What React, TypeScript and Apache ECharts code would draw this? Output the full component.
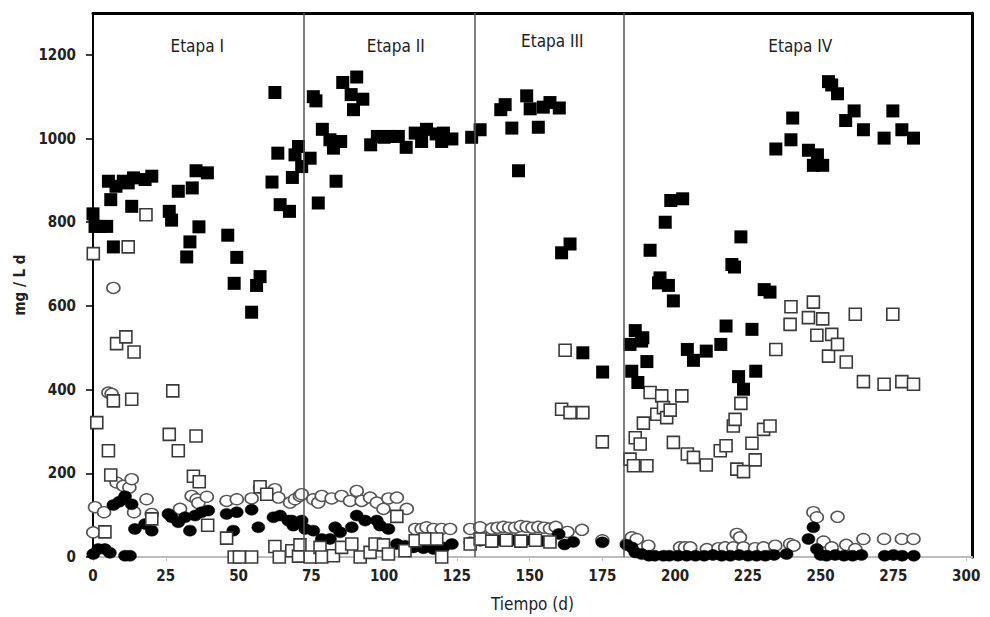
import React, { useEffect, useRef } from "react";
import * as echarts from "echarts";

// ---- data (day, mg/L d) ----
const filledSquares: number[][] = [
  [0, 820], [0.7, 790], [2.4, 790], [4.7, 790], [5.3, 898], [6.1, 854], [7, 741], [7.9, 886], [10.4, 898], [12.1, 894],
  [13.3, 838], [13.9, 906], [17.9, 902], [20.2, 910], [26.2, 826], [27, 805], [29.3, 874], [32.2, 717], [33.3, 753],
  [34.1, 882], [35.4, 923], [36.4, 789], [39.3, 918], [46.3, 769], [48.5, 654], [49.4, 716], [54.5, 585], [56.2, 649],
  [57.4, 670], [61.5, 896], [62.5, 1110], [63.5, 965], [64.3, 842], [67.5, 826], [68.5, 907], [69.4, 961], [70.6, 981],
  [71.7, 933], [74.6, 953], [75.7, 1100], [76.6, 1090], [77.4, 846], [78.8, 1022], [81.4, 997], [82.6, 977], [83.5, 898],
  [85.1, 993], [85.8, 1134], [88.7, 1105], [89.5, 1069], [90.6, 1147], [92.7, 1094], [95.4, 985], [97.7, 1005], [100, 1003],
  [102, 1005], [104.9, 1005], [107.6, 979], [110.7, 1013], [112.9, 993], [114.6, 1022], [117.9, 1011], [119.8, 993],
  [120.4, 1013], [123.3, 999], [130.1, 1003], [133, 1021], [140.1, 1069], [141.6, 1081], [143.9, 1025], [146.2, 923],
  [149, 1102], [150.2, 1071], [153, 1027], [154.7, 1075], [157, 1086], [160.2, 1073], [161, 727], [163.9, 748],
  [168.3, 488], [175.1, 442],
  [184.5, 508], [185.1, 444], [186.3, 541], [187.2, 417], [188.5, 516], [188.9, 524], [190.3, 467], [191.4, 733],
  [194.3, 655], [194.8, 667], [196.6, 800], [197.7, 649], [198.5, 852], [199.4, 612], [202.6, 856], [204.2, 496],
  [206.3, 470], [210.7, 492], [215.7, 508], [217.5, 552], [219.5, 699], [220.4, 693], [221.8, 431], [222.6, 765],
  [223.5, 401], [226.4, 544], [227.7, 444], [230.6, 639], [232.6, 633], [234.6, 975], [239.8, 997], [240.4, 1049],
  [245.8, 972], [247.5, 936], [248.9, 961], [250.7, 936], [252.7, 1136], [253.8, 1128], [255.8, 1107], [258.6, 1043],
  [261.5, 1066], [264.7, 1021], [271.8, 1001], [274.8, 1066], [277.9, 1021], [281.9, 1001],
];

const openSquares: number[][] = [
  [0.1, 725], [1.3, 321], [4.1, 60], [5.3, 254], [6.1, 196], [7, 373], [8.1, 510], [11.3, 526], [12.1, 741], [13.3, 377],
  [14.1, 490], [18.2, 818], [20.2, 91], [26.2, 293], [27.4, 397], [29.3, 254], [34.5, 193], [35.4, 289], [36.5, 180],
  [39.4, 76], [45.9, 45], [48.5, 0], [50.3, 0], [54.5, 0], [57.4, 168], [59.7, 150], [62.5, 25], [64, 0], [68.3, 15],
  [70.6, 2], [71.1, 29], [74.6, 0], [78, 23], [78.6, 0], [82.6, 3], [85.4, 23], [88.9, 31], [91.8, 0], [95.2, 11],
  [96.9, 31], [99.8, 29], [101.5, 7], [104.4, 97], [107.2, 15], [110.7, 39], [114.1, 43], [118.1, 43], [119.8, 0],
  [129.6, 31], [133, 43], [137, 38], [142, 40], [147, 38], [152, 40], [157, 36], [161, 353], [162.2, 494], [163.9, 345],
  [168.3, 345], [175, 275],
  [184.5, 234], [185.7, 218], [186.3, 285], [188, 270], [189.1, 320], [190.3, 218], [191.4, 393], [193.7, 341],
  [195.4, 385], [196, 357], [197.1, 333], [198.3, 351], [199.4, 274], [202.3, 385], [204.2, 246], [206.3, 238],
  [210.7, 220], [215.5, 254], [217.5, 266], [220, 313], [220.6, 329], [221.2, 210], [222.6, 367], [223.5, 204],
  [226.4, 272], [227.5, 232], [230.4, 305], [232.6, 313], [234.6, 496], [239.5, 556], [239.8, 598], [245.8, 572],
  [247.5, 609], [248.7, 530], [250.7, 569], [252.7, 480], [253.8, 532], [255.8, 508], [258.8, 466], [261.9, 580],
  [264.7, 419], [271.8, 413], [274.8, 580], [277.9, 419], [281.9, 413],
];

const openCircles: number[][] = [
  [0.1, 59], [0.7, 119], [3.8, 107], [5.3, 393], [6.4, 390], [7, 643], [8.1, 178], [10.4, 170], [12.5, 166], [13.3, 186],
  [14.1, 107], [18.4, 138], [20.2, 103], [29.9, 115], [33.9, 146], [35.6, 138], [36.2, 129], [39.1, 144], [45.9, 134],
  [49.4, 138], [54.5, 140], [57.4, 166], [62.5, 162], [63.7, 142], [67.7, 130], [69.4, 138], [71.1, 146], [71.7, 150],
  [75.7, 138], [77.4, 130], [78.6, 146], [82, 140], [85.4, 146], [88.3, 134], [90.6, 158], [92.3, 134], [95.2, 142],
  [97.5, 130], [99.8, 115], [101.5, 140], [104.4, 142], [107.8, 115], [110.7, 67], [112.9, 67], [114.6, 71], [117, 67],
  [119.8, 67], [122.7, 67], [129.6, 67], [133, 71], [137, 68], [139, 70], [141, 72], [143, 70], [145, 70], [147, 74],
  [149, 72], [151, 70], [153, 72], [155, 70], [157, 68], [159, 72], [163, 60], [168, 65], [175, 40],
  [183.4, 31], [185.1, 47], [186.8, 43], [190.8, 27], [201.7, 23], [203.4, 23], [205.2, 23], [210.9, 19], [214.9, 21],
  [217.2, 23], [220, 23], [221.2, 55], [222.3, 47], [223.5, 23], [227.5, 21], [230.4, 23], [234.4, 27], [239.5, 31],
  [240.7, 27], [247.5, 107], [248.7, 95], [251, 37], [253.8, 23], [255.8, 96], [258.8, 29], [261.9, 19], [264.7, 43],
  [271.8, 43], [277.9, 43], [281.9, 43],
];

const filledCircles: number[][] = [
  [0.1, 7], [1.8, 19], [4.1, 19], [5.8, 10], [7, 124], [9, 132], [11, 145], [11, 3], [12.7, 3], [13.3, 126], [14.4, 67],
  [17.9, 79], [20.2, 63], [25.9, 103], [27, 95], [29.3, 83], [31.6, 95], [33.3, 63], [35.1, 99], [37.3, 107], [39.6, 111],
  [45.9, 103], [48.2, 63], [49.4, 107], [54.5, 113], [56.8, 71], [62, 95], [64.3, 99], [67.1, 87], [68.3, 87], [68.8, 75],
  [71.7, 87], [72.9, 67], [75.7, 63], [78.6, 43], [81.4, 43], [83.2, 71], [84.9, 59], [88.9, 71], [90.6, 99], [93.5, 87],
  [97.5, 87], [98.6, 75], [101.5, 67], [104.4, 31], [107.2, 27], [110.1, 23], [113.5, 21], [117, 19], [120.4, 23],
  [123.3, 31], [129.6, 35], [133, 39], [136, 38], [139, 40], [142, 38], [145, 40], [148, 38], [151, 40], [154, 38],
  [157, 36], [160, 55], [162, 30], [165, 36], [175, 35],
  [183.4, 29], [185.1, 23], [186.3, 11], [188.5, 7], [191, 3], [193, 3], [196, 3], [198, 3], [201, 3], [204, 3], [207, 3],
  [210, 3], [213, 5], [216, 3], [219, 3], [222, 5], [225, 3], [228, 3], [231, 3], [234, 5], [238.3, 7], [245.8, 43],
  [247.5, 71], [248.7, 19], [250, 5], [252, 3], [255, 5], [258, 3], [261, 3], [264, 5], [272, 3], [275, 5], [278, 3],
  [282, 3],
];

const stageNames = ["Etapa I", "Etapa II", "Etapa III", "Etapa IV"];
const stageLabelX = [35.8, 104, 157.8, 243];
const stageLabelY = [1222, 1222, 1232, 1222];
const stageBoundaries = [72.5, 131, 182.5];

const xTickInterval = 25;
const yTickInterval = 200;

const FONT = "'Liberation Sans Narrow', 'DejaVu Sans Condensed', 'Arial Narrow', Arial, sans-serif";

export default function App() {
  const ref = useRef<HTMLDivElement>(null);
  useEffect(() => {
    if (!ref.current) return;
    const chart = echarts.init(ref.current, null, { renderer: "svg" });
    const stageData = stageNames.map((n, i) => ({ name: n, value: [stageLabelX[i], stageLabelY[i]] }));
    chart.setOption({
      animation: false,
      backgroundColor: "#fff",
      grid: { left: 93, top: 13, width: 879, height: 545, containLabel: false },
      xAxis: [
        {
          type: "value", min: 0, max: 302, interval: xTickInterval,
          name: "Tiempo (d)", nameLocation: "middle", nameGap: 38,
          nameTextStyle: { fontFamily: FONT, fontSize: 17, color: "#222" },
          axisLine: { show: true, lineStyle: { color: "#bdbdbd", width: 2 } },
          axisTick: { show: true, length: 4, lineStyle: { color: "#bdbdbd" } },
          axisLabel: { fontFamily: FONT, fontSize: 15, fontWeight: "bold", color: "#222", margin: 11, showMaxLabel: false },
          splitLine: { show: false },
        },
        {
          type: "value", min: 0, max: 302, position: "top",
          axisLine: { show: true, onZero: false, lineStyle: { color: "#000", width: 3 } },
          axisTick: { show: false }, axisLabel: { show: false }, splitLine: { show: false },
        },
      ],
      yAxis: [
        {
          type: "value", min: 0, max: 1300, interval: yTickInterval,
          name: "mg / L d", nameLocation: "middle", nameGap: 42, nameRotate: 90,
          nameTextStyle: { fontFamily: FONT, fontSize: 15, fontWeight: "bold", color: "#222" },
          axisLine: { show: true, lineStyle: { color: "#000", width: 2 } },
          axisTick: { show: true, length: 7, lineStyle: { color: "#000", width: 1.5 } },
          axisLabel: {
            fontFamily: FONT, fontSize: 15, fontWeight: "bold", color: "#222", margin: 17, showMaxLabel: false,
            formatter: (v: number) => String(v),
          },
          splitLine: { show: false },
        },
        {
          type: "value", min: 0, max: 1300, position: "right",
          axisLine: { show: true, onZero: false, lineStyle: { color: "#000", width: 3 } },
          axisTick: { show: false }, axisLabel: { show: false }, splitLine: { show: false },
        },
      ],
      series: [
        {
          type: "scatter", name: "open circles", data: openCircles, symbol: "circle", symbolSize: [13, 11],
          itemStyle: { color: "#fff", borderColor: "#555", borderWidth: 1.5, opacity: 1 },
        },
        {
          type: "scatter", name: "filled circles", data: filledCircles, symbol: "circle", symbolSize: [13, 11],
          itemStyle: { color: "#000", borderColor: "#000", borderWidth: 0.5, opacity: 1 },
        },
        {
          type: "scatter", name: "open squares", data: openSquares, symbol: "rect", symbolSize: 12,
          itemStyle: { color: "#fff", borderColor: "#3a3a3a", borderWidth: 1.6, opacity: 1 },
        },
        {
          type: "scatter", name: "filled squares", data: filledSquares, symbol: "rect", symbolSize: 13,
          itemStyle: { color: "#000", opacity: 1 },
        },
        {
          type: "scatter", name: "stages", data: stageData, symbol: "circle", symbolSize: 1, silent: true,
          itemStyle: { color: "rgba(0,0,0,0)", opacity: 1 },
          label: {
            show: true, position: "inside", formatter: (p: any) => p.name,
            fontFamily: FONT, fontSize: 17, color: "#222",
          },
          markLine: {
            silent: true, symbol: ["none", "none"], label: { show: false },
            lineStyle: { color: "#555", width: 1.5, type: "solid" },
            data: stageBoundaries.map((x) => ({ xAxis: x })),
          },
        },
      ],
    });
    return () => chart.dispose();
  }, []);
  return <div ref={ref} style={{ width: 990, height: 617, position: "absolute", left: 0, top: 0 }} />;
}
